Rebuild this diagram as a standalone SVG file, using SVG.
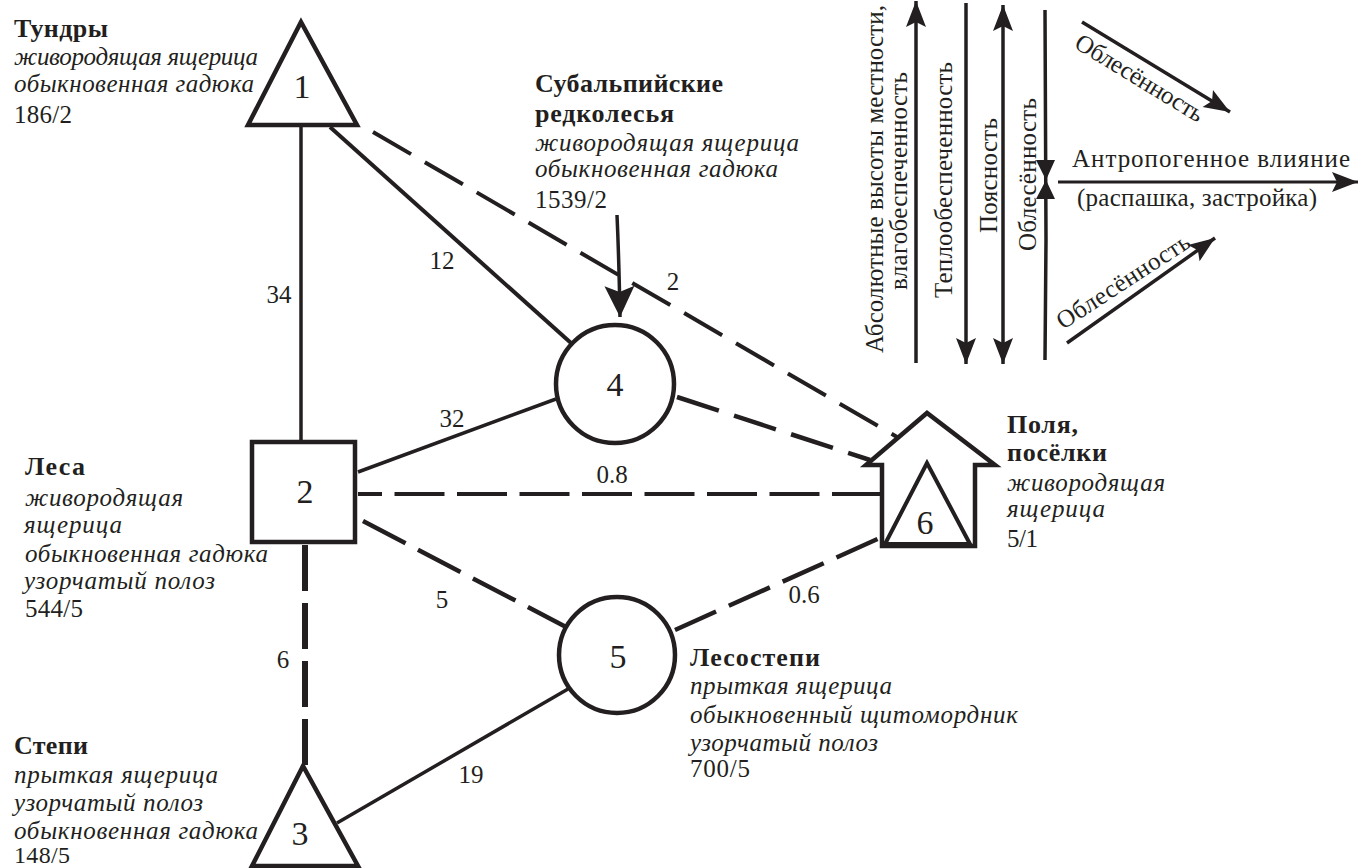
<svg xmlns="http://www.w3.org/2000/svg" width="1359" height="868" viewBox="0 0 1359 868" font-family="'Liberation Serif', 'Times New Roman', serif">
<style>
text{font-family:'Liberation Serif','Times New Roman',serif;fill:#231f20}
.h{font-size:26px;font-weight:bold}
.i{font-size:25px;font-style:italic}
.r{font-size:25px}
.n{font-size:34px;text-anchor:middle}
.e{font-size:25px;text-anchor:middle}
.s{fill:none;stroke:#231f20}
.node{fill:#fff;stroke:#231f20;stroke-width:4.5}
</style>
<defs>
<marker id="ah" markerUnits="userSpaceOnUse" markerWidth="28" markerHeight="22" refX="26" refY="11" orient="auto-start-reverse" overflow="visible">
<path d="M0,1 L26,11 L0,21 L5,11 Z" fill="#231f20"/>
</marker>
<marker id="ahb" markerUnits="userSpaceOnUse" markerWidth="32" markerHeight="32" refX="31" refY="16" orient="auto" overflow="visible">
<path d="M0,1 L31,16 L0,31 L6,16 Z" fill="#231f20"/>
</marker>
</defs>
<rect width="1359" height="868" fill="#fff"/>

<g id="connectors">
<line class="s" x1="301" y1="127" x2="301" y2="440" stroke-width="3.5"/>
<line class="s" x1="330" y1="127" x2="571" y2="343" stroke-width="4"/>
<line class="s" x1="373" y1="132" x2="897" y2="437" stroke-width="4" stroke-dasharray="44 16"/>
<line class="s" x1="358" y1="472" x2="556" y2="399" stroke-width="3.5"/>
<line class="s" x1="358" y1="494" x2="882" y2="494" stroke-width="4" stroke-dasharray="50 12.5" stroke-dashoffset="26"/>
<line class="s" x1="363" y1="521" x2="566" y2="627" stroke-width="4.5" stroke-dasharray="48 14"/>
<line class="s" x1="305" y1="545" x2="305" y2="767" stroke-width="6" stroke-dasharray="46 12"/>
<line class="s" x1="337" y1="823" x2="568" y2="689" stroke-width="3.5"/>
<line class="s" x1="677" y1="397" x2="870" y2="460" stroke-width="4.5" stroke-dasharray="44 16"/>
<line class="s" x1="675" y1="630" x2="882" y2="537" stroke-width="4.5" stroke-dasharray="45 14"/>
<path class="s" d="M617,215 Q619,260 620,317" stroke-width="3.5" marker-end="url(#ahb)"/>
<text class="e" x="279" y="303">34</text>
<text class="e" x="442" y="269">12</text>
<text class="e" x="673" y="290">2</text>
<text class="e" x="452" y="427">32</text>
<text class="e" x="612" y="483">0.8</text>
<text class="e" x="442" y="608">5</text>
<text class="e" x="804" y="603">0.6</text>
<text class="e" x="283" y="668">6</text>
<text class="e" x="471" y="783">19</text>
</g>

<g id="node1">
<polygon class="node" points="301,22 248,125 357,125"/>
<text class="n" x="302" y="98">1</text>
<text class="h" x="14" y="37" textLength="94">Тундры</text>
<text class="i" x="14" y="65" textLength="244">живородящая ящерица</text>
<text class="i" x="14" y="92" textLength="240">обыкновенная гадюка</text>
<text class="r" x="14" y="123" textLength="58">186/2</text>
</g>

<g id="node2">
<rect class="node" x="252" y="442" width="103" height="100" stroke-width="5"/>
<text class="n" x="305" y="503">2</text>
<text class="h" x="25" y="475" textLength="60">Леса</text>
<text class="i" x="25" y="506" textLength="158">живородящая</text>
<text class="i" x="24" y="533" textLength="98">ящерица</text>
<text class="i" x="25" y="562" textLength="243">обыкновенная гадюка</text>
<text class="i" x="24" y="589" textLength="191">узорчатый полоз</text>
<text class="r" x="25" y="617" textLength="58">544/5</text>
</g>

<g id="node3">
<polygon class="node" points="303,766 252,866 358,866"/>
<text class="n" x="300" y="845">3</text>
<text class="h" x="14" y="754" textLength="74">Степи</text>
<text class="i" x="14" y="783" textLength="204">прыткая ящерица</text>
<text class="i" x="14" y="811" textLength="189">узорчатый полоз</text>
<text class="i" x="14" y="839" textLength="244">обыкновенная гадюка</text>
<text class="r" x="14" y="863" textLength="56" style="font-size:24px">148/5</text>
</g>

<g id="node4">
<circle class="node" cx="615" cy="384" r="59"/>
<text class="n" x="615" y="396">4</text>
<text class="h" x="535" y="92" textLength="188">Субальпийские</text>
<text class="h" x="535" y="122" textLength="139">редколесья</text>
<text class="i" x="535" y="151" textLength="264">живородящая ящерица</text>
<text class="i" x="535" y="177" textLength="243">обыкновенная гадюка</text>
<text class="r" x="535" y="208" textLength="72">1539/2</text>
</g>

<g id="node5">
<circle class="node" cx="617" cy="655" r="58"/>
<text class="n" x="618" y="668">5</text>
<text class="h" x="690" y="666" textLength="130">Лесостепи</text>
<text class="i" x="690" y="694" textLength="202">прыткая ящерица</text>
<text class="i" x="690" y="723" textLength="328">обыкновенный щитомордник</text>
<text class="i" x="690" y="751" textLength="188">узорчатый полоз</text>
<text class="r" x="690" y="777" textLength="60">700/5</text>
</g>

<g id="node6">
<polygon class="node" points="882,546 882,465 866,465 927,413 995,465 975,465 975,546" stroke-width="4"/>
<polygon class="s" points="927,463 885,544 970,544" stroke-width="4"/>
<text class="n" x="925" y="534">6</text>
<text class="h" x="1007" y="433" textLength="71">Поля,</text>
<text class="h" x="1007" y="461" textLength="100">посёлки</text>
<text class="i" x="1007" y="491" textLength="158">живородящая</text>
<text class="i" x="1007" y="517" textLength="98">ящерица</text>
<text class="r" x="1007" y="547" textLength="31">5/1</text>
</g>

<g id="factors">
<line class="s" x1="916" y1="363" x2="916" y2="1" stroke-width="3.5" marker-end="url(#ah)"/>
<line class="s" x1="966" y1="3" x2="966" y2="364" stroke-width="3.5" marker-end="url(#ah)"/>
<line class="s" x1="1003" y1="5" x2="1003" y2="364" stroke-width="3.5" marker-start="url(#ah)" marker-end="url(#ah)"/>
<path class="s" d="M1045,10 L1046,240 L1045,360" stroke-width="3.5"/>
<polygon points="1036,160 1055,160 1046,180 1036,199 1055,199 1046,180" fill="#231f20"/>
<line class="s" x1="1082" y1="22" x2="1230" y2="112" stroke-width="3.5" marker-end="url(#ah)"/>
<line class="s" x1="1058" y1="182" x2="1358" y2="182" stroke-width="3" marker-end="url(#ah)"/>
<line class="s" x1="1067" y1="343" x2="1215" y2="238" stroke-width="3.5" marker-end="url(#ah)"/>
<text class="r" transform="translate(883,353) rotate(-90)" textLength="348">Абсолютные высоты местности,</text>
<text class="r" transform="translate(907,290) rotate(-90)" textLength="218">влагобеспеченность</text>
<text class="r" transform="translate(952,298) rotate(-90)" textLength="236">Теплообеспеченность</text>
<text class="r" transform="translate(997,233) rotate(-90)" textLength="115">Поясность</text>
<text class="r" transform="translate(1036,251) rotate(-90)" textLength="153">Облесённость</text>
<text class="r" transform="translate(1073,47) rotate(31.3)" textLength="146">Облесённость</text>
<text class="r" transform="translate(1063,330) rotate(-33)" textLength="154">Облесённость</text>
<text class="r" x="1072" y="167" textLength="278">Антропогенное влияние</text>
<text class="r" x="1077" y="206" textLength="240">(распашка, застройка)</text>
</g>
</svg>
